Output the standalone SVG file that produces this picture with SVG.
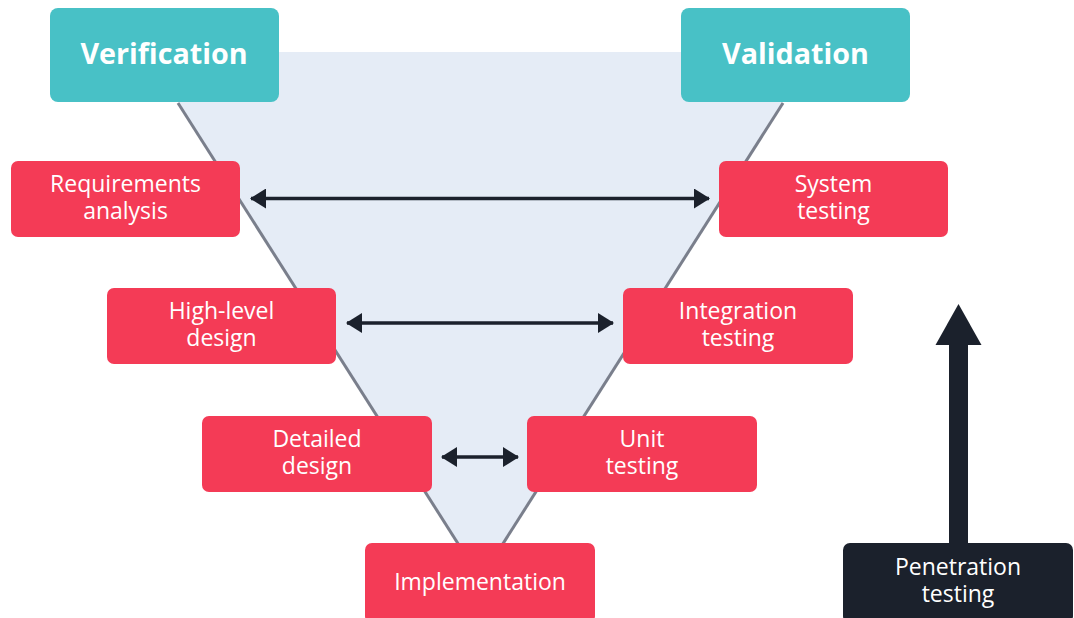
<svg xmlns="http://www.w3.org/2000/svg" width="1074" height="618" viewBox="0 0 1074 618">
  <style>
    .head { fill: #48C1C6; }
    .step { fill: #F43B56; }
    .pen { fill: #1B212C; }
    .t { font-family: "Open Sans", "Noto Sans", "Liberation Sans", sans-serif; font-size: 23px; fill: #FFFFFF; text-anchor: middle; }
    .tb { font-family: "Open Sans", "Noto Sans", "Liberation Sans", sans-serif; font-size: 28.7px; font-weight: bold; fill: #FFFFFF; text-anchor: middle; }
    .edge { stroke: #7A7F8C; stroke-width: 3; fill: none; }
    .conn { stroke: #1B212C; stroke-width: 3.5; fill: none; marker-start: url(#ah); marker-end: url(#ah); }
  </style>
  <defs>
    <marker id="ah" viewBox="0 0 16 20" refX="15" refY="10" markerWidth="16" markerHeight="20" markerUnits="userSpaceOnUse" orient="auto-start-reverse">
      <path d="M0,0 L16,10 L0,20 Z" fill="#1B212C"/>
    </marker>
  </defs>
  <rect width="1074" height="618" fill="#FFFFFF"/>
  <g id="funnel">
    <polygon points="146,52 815,52 480.5,579" fill="#E5ECF6"/>
    <line class="edge" x1="178" y1="103" x2="480.5" y2="579"/>
    <line class="edge" x1="783" y1="103" x2="480.5" y2="579"/>
  </g>
  <g id="connectors">
    <line class="conn" x1="251" y1="198.5" x2="709" y2="198.5"/>
    <line class="conn" x1="347" y1="323" x2="613" y2="323"/>
    <line class="conn" x1="442" y1="457" x2="518" y2="457"/>
    <g id="pen-arrow">
      <rect x="949" y="343" width="19" height="202" fill="#1B212C"/>
      <polygon points="958.5,304 981.5,345 935.5,345" fill="#1B212C"/>
    </g>
  </g>
  <g id="verification">
    <rect class="head" x="50" y="8" width="229" height="94" rx="8"/>
    <text class="tb" x="164" y="63.5">Verification</text>
  </g>
  <g id="validation">
    <rect class="head" x="681" y="8" width="229" height="94" rx="8"/>
    <text class="tb" x="795.5" y="63.5">Validation</text>
  </g>
  <g id="requirements">
    <rect class="step" x="11" y="161" width="229" height="76" rx="7"/>
    <text class="t" x="125.5" y="192">Requirements</text>
    <text class="t" x="125.5" y="219">analysis</text>
  </g>
  <g id="system">
    <rect class="step" x="719" y="161" width="229" height="76" rx="7"/>
    <text class="t" x="833.5" y="192">System</text>
    <text class="t" x="833.5" y="219">testing</text>
  </g>
  <g id="highlevel">
    <rect class="step" x="107" y="288" width="229" height="76" rx="7"/>
    <text class="t" x="221.5" y="319">High-level</text>
    <text class="t" x="221.5" y="346">design</text>
  </g>
  <g id="integration">
    <rect class="step" x="623" y="288" width="230" height="76" rx="7"/>
    <text class="t" x="738" y="319">Integration</text>
    <text class="t" x="738" y="346">testing</text>
  </g>
  <g id="detailed">
    <rect class="step" x="202" y="416" width="230" height="76" rx="7"/>
    <text class="t" x="317" y="447">Detailed</text>
    <text class="t" x="317" y="474">design</text>
  </g>
  <g id="unit">
    <rect class="step" x="527" y="416" width="230" height="76" rx="7"/>
    <text class="t" x="642" y="447">Unit</text>
    <text class="t" x="642" y="474">testing</text>
  </g>
  <g id="implementation">
    <rect class="step" x="365" y="543" width="230" height="80" rx="7"/>
    <text class="t" x="480" y="590">Implementation</text>
  </g>
  <g id="penetration">
    <rect class="pen" x="843" y="543" width="230" height="80" rx="7"/>
    <text class="t" x="958" y="575">Penetration</text>
    <text class="t" x="958" y="602">testing</text>
  </g>
</svg>
